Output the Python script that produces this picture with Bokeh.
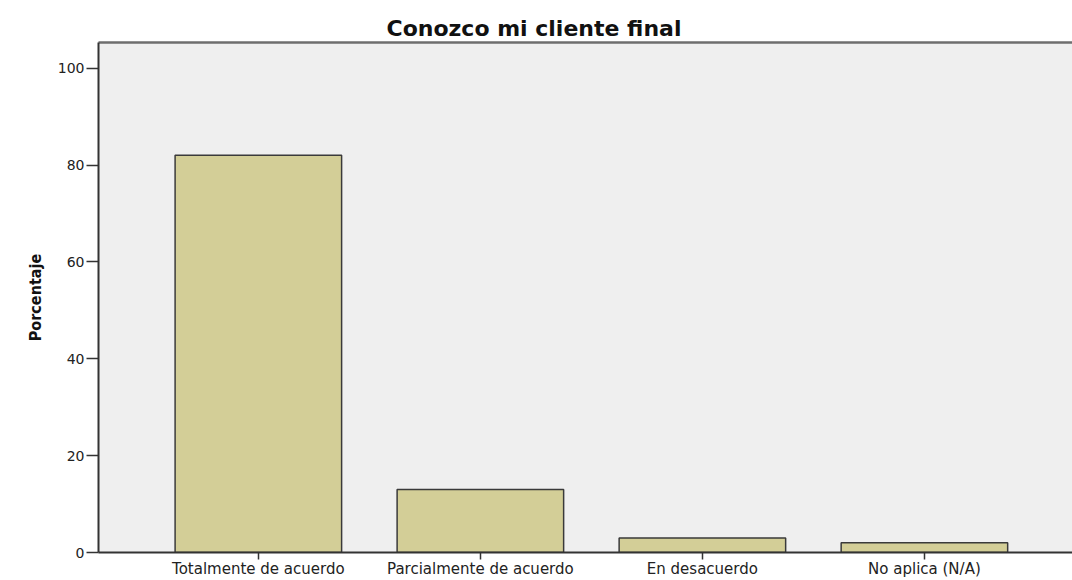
from bokeh.plotting import figure
from bokeh.models import Range1d, FixedTicker, LinearAxis, ColumnDataSource
from bokeh.embed import file_html
from bokeh.resources import INLINE

# ---- data ----
categories = ["Totalmente de acuerdo", "Parcialmente de acuerdo", "En desacuerdo", "No aplica (N/A)"]
percentages = [82.0, 13.0, 3.0, 2.0]
y_ticks = [0, 20, 40, 60, 80, 100]
title_text = "Conozco mi cliente final"
y_label = "Porcentaje"

positions = list(range(len(categories)))
src = ColumnDataSource(dict(x=positions, top=percentages, cat=categories))

p = figure(width=1072, height=580, output_backend="svg", toolbar_location=None,
           x_range=Range1d(-0.72, 3.667), y_range=Range1d(0, 105.3),
           min_border_left=98, min_border_right=0, min_border_top=42, min_border_bottom=0,
           background_fill_color="#efefef", border_fill_color="white")
p.outline_line_color = None
p.grid.visible = False

p.vbar(x="x", top="top", width=0.75, source=src,
       fill_color="#d3ce97", line_color="#3a3a3a", line_width=1.5)

# title
p.title.text = title_text
p.title.text_font = "DejaVu Sans"
p.title.text_font_style = "bold"
p.title.text_font_size = "22px"
p.title.text_color = "#111111"
p.title.align = "left"
p.title.offset = 288
p.title.standoff = 4

# y axis
ya = p.left[0]
ya.ticker = FixedTicker(ticks=y_ticks)
ya.axis_label = y_label
ya.axis_label_text_font = "'Liberation Sans Narrow', 'DejaVu Sans Condensed', 'DejaVu Sans'"
ya.axis_label_text_font_style = "bold"
ya.axis_label_text_font_size = "16px"
ya.axis_label_text_color = "#111111"
ya.axis_label_standoff = 10
ya.major_label_text_font = "DejaVu Sans"
ya.major_label_text_font_size = "14px"
ya.major_label_text_color = "#222222"
ya.major_label_standoff = 2
ya.major_tick_out = 12
ya.major_tick_in = 0
ya.minor_tick_line_color = None
ya.axis_line_color = "#333333"
ya.axis_line_width = 2
ya.major_tick_line_color = "#333333"
ya.major_tick_line_width = 1.5

# x axis
xa = p.below[0]
xa.ticker = FixedTicker(ticks=positions)
xa.major_label_overrides = {i: c for i, c in zip(positions, categories)}
xa.major_label_text_font = "DejaVu Sans"
xa.major_label_text_font_size = "15px"
xa.major_label_text_color = "#222222"
xa.major_label_standoff = 0
xa.major_tick_out = 7
xa.major_tick_in = 0
xa.minor_tick_line_color = None
xa.axis_line_color = "#333333"
xa.axis_line_width = 2
xa.major_tick_line_color = "#333333"
xa.major_tick_line_width = 1.5

# top border line
top_axis = LinearAxis(ticker=FixedTicker(ticks=[]), major_tick_line_color=None,
                      minor_tick_line_color=None, axis_line_color="#6e6e6e",
                      axis_line_width=2.5, major_label_text_font_size="0px")
p.add_layout(top_axis, "above")

open("out.html", "w").write(file_html(p, INLINE))
